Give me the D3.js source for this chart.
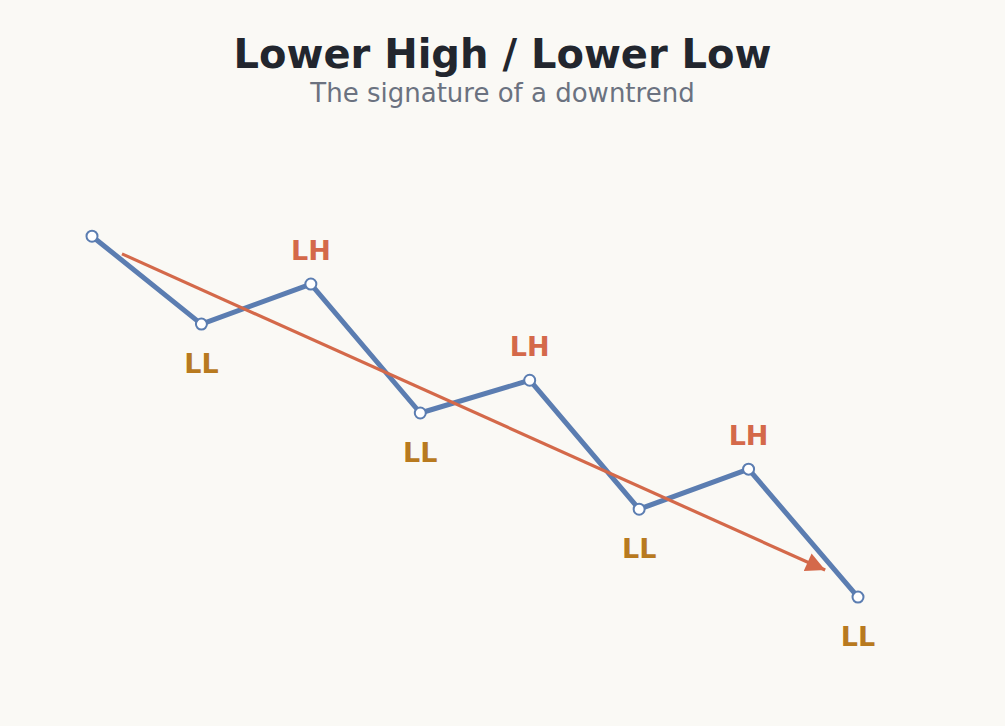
<!DOCTYPE html>
<html>
<head>
<meta charset="utf-8">
<script src="https://cdn.jsdelivr.net/npm/d3@7"></script>
<style>
  html, body { margin: 0; padding: 0; background: #faf9f5; }
  svg { display: block; font-family: "DejaVu Sans", sans-serif; }
</style>
</head>
<body>
<div id="chart"></div>
<script>
// Swing points of a downtrend: index along time, price level
const swingIndex = [0, 1, 2, 3, 4, 5, 6, 7];
const swingPrice = [81.5, 64.6, 72.3, 47.5, 53.8, 29.0, 36.7, 12.1];
const swingLabel = ['', 'LL', 'LH', 'LL', 'LH', 'LL', 'LH', 'LL'];

// Trend arrow, start and end in data units
const trendIndex = [0.274, 6.70];
const trendPrice = [78.1, 17.3];

const width = 1005, height = 726;

const svg = d3.select('#chart').append('svg')
  .attr('width', width)
  .attr('height', height);

svg.append('rect').attr('width', width).attr('height', height).attr('fill', '#faf9f5');

const x = d3.scaleLinear().domain([0, 7]).range([92, 858]);
const y = d3.scaleLinear().domain([0, 100]).range([660, 140]);

svg.append('text')
  .attr('x', width / 2).attr('y', 68)
  .attr('text-anchor', 'middle')
  .attr('font-size', 40).attr('font-weight', 'bold')
  .attr('fill', '#22262e')
  .text('Lower High / Lower Low');

svg.append('text')
  .attr('x', width / 2).attr('y', 102)
  .attr('text-anchor', 'middle')
  .attr('font-size', 26)
  .attr('fill', '#6b7280')
  .text('The signature of a downtrend');

svg.append('defs').append('marker')
  .attr('id', 'arrow')
  .attr('viewBox', '0 0 10 10')
  .attr('refX', 10).attr('refY', 5)
  .attr('markerWidth', 7).attr('markerHeight', 6)
  .attr('markerUnits', 'strokeWidth')
  .attr('orient', 'auto')
  .append('path')
  .attr('d', 'M0,0 L10,5 L0,10 Z')
  .attr('fill', '#d4694a');

const pts = swingIndex.map((d, i) => ({ i: d, p: swingPrice[i], label: swingLabel[i] }));

const line = d3.line().x(d => x(d.i)).y(d => y(d.p));

svg.append('path')
  .datum(pts)
  .attr('d', line)
  .attr('fill', 'none')
  .attr('stroke', '#5b7db1')
  .attr('stroke-width', 5)
  .attr('stroke-linejoin', 'round')
  .attr('stroke-linecap', 'round');

svg.append('line')
  .attr('x1', x(trendIndex[0])).attr('y1', y(trendPrice[0]))
  .attr('x2', x(trendIndex[1])).attr('y2', y(trendPrice[1]))
  .attr('stroke', '#d4694a')
  .attr('stroke-width', 3.2)
  .attr('marker-end', 'url(#arrow)');

svg.append('g').selectAll('circle')
  .data(pts)
  .join('circle')
  .attr('cx', d => x(d.i))
  .attr('cy', d => y(d.p))
  .attr('r', 5.5)
  .attr('fill', '#ffffff')
  .attr('stroke', '#5b7db1')
  .attr('stroke-width', 2);

svg.append('g').selectAll('text')
  .data(pts.filter(d => d.label))
  .join('text')
  .attr('x', d => x(d.i))
  .attr('y', d => d.label === 'LH' ? y(d.p) - 24 : y(d.p) + 49)
  .attr('text-anchor', 'middle')
  .attr('font-size', 27)
  .attr('font-weight', 'bold')
  .attr('fill', d => d.label === 'LH' ? '#d4694a' : '#b87a1f')
  .text(d => d.label);
</script>
</body>
</html>
